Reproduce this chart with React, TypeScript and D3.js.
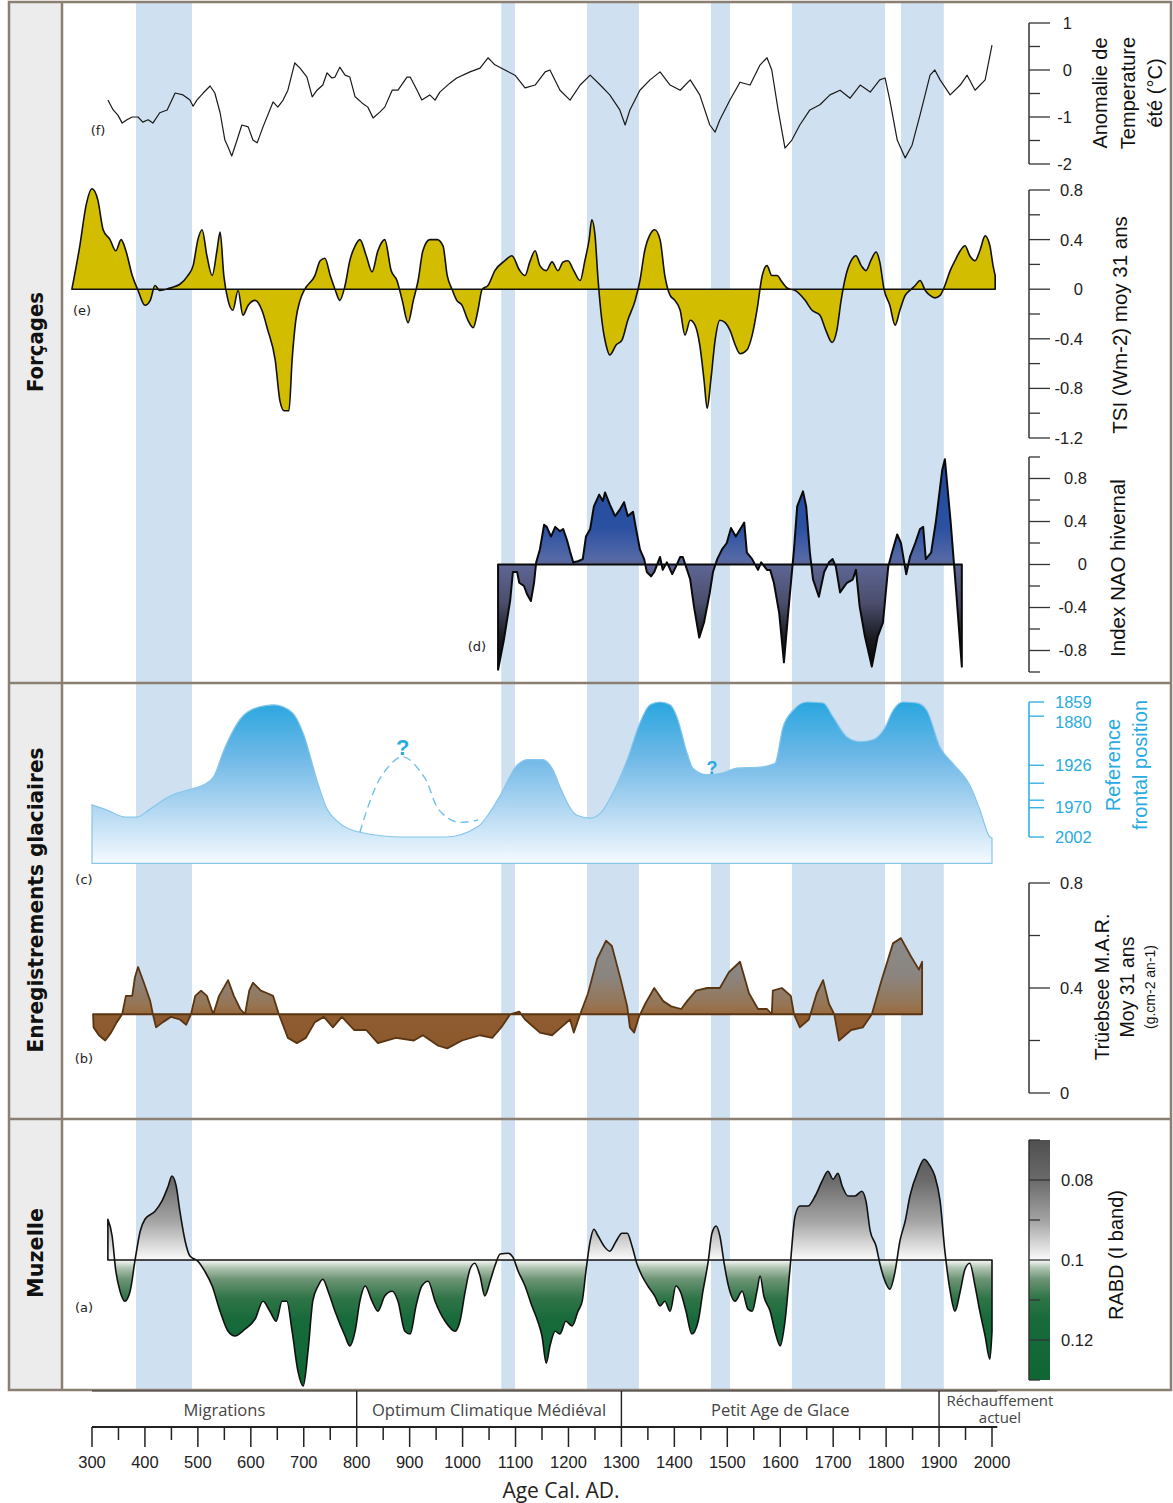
import React from "react";
import * as d3 from "d3";

type P = [number, number];

// ---------- DATA ----------
const bandStarts = [383, 1073, 1235, 1469, 1622, 1828];
const bandEnds = [489, 1099, 1333, 1505, 1798, 1909];

const periodNames = ["Migrations", "Optimum Climatique Médiéval", "Petit Age de Glace", "Réchauffement actuel"];
const periodBounds = [300, 800, 1300, 1900, 2130];
const xTickYears = d3.range(300, 2001, 50);

const fMajor = [1, 0, -1, -2];
const fMinor = [0.5, -0.5, -1.5];
const eMajor = [0.8, 0.4, 0, -0.4, -0.8, -1.2];
const eMinor = [0.6, 0.2, -0.2, -0.6, -1.0];
const dMajor = [0.8, 0.4, 0, -0.4, -0.8];
const dMinor = [1.0, 0.6, 0.2, -0.2, -0.6, -1.0];
const cTicks = [1859, 1874, 1926, 1945, 1963, 1971, 2002];
const cLabels = [1859, 1880, 1926, 1970, 2002];
const bMajor = [0.8, 0.4, 0];
const bMinor = [0.6, 0.2];
const aMajor = [0.08, 0.1, 0.12];
const aMinor = [0.07, 0.09, 0.11, 0.13];

// (f) summer temperature anomaly (°C)
const tempSeries: P[] = [[330,-0.64],[340,-0.85],[349,-0.96],[357,-1.13],[366,-1.06],[376,-1.0],[387,-1.0],[396,-1.11],[406,-1.06],[415,-1.13],[428,-0.91],[442,-0.85],[457,-0.49],[472,-0.53],[485,-0.64],[491,-0.77],[498,-0.64],[510,-0.49],[523,-0.34],[532,-0.49],[542,-0.91],[551,-1.49],[557,-1.64],[564,-1.83],[574,-1.49],[583,-1.17],[595,-1.21],[604,-1.49],[612,-1.55],[623,-1.21],[642,-0.68],[651,-0.79],[661,-0.64],[670,-0.43],[683,0.15],[693,0.04],[706,-0.15],[716,-0.57],[725,-0.43],[736,-0.32],[744,-0.06],[753,-0.17],[759,-0.15],[768,0.06],[778,-0.11],[787,-0.15],[797,-0.57],[810,-0.70],[821,-0.79],[831,-1.02],[844,-0.89],[853,-0.79],[867,-0.43],[878,-0.43],[895,-0.15],[901,-0.15],[914,-0.43],[923,-0.64],[938,-0.53],[948,-0.64],[957,-0.47],[976,-0.28],[989,-0.17],[1014,-0.04],[1033,0.04],[1048,0.26],[1061,0.11],[1080,0],[1099,-0.11],[1118,-0.38],[1137,-0.32],[1156,-0.04],[1165,0],[1184,-0.43],[1203,-0.64],[1222,-0.32],[1241,-0.11],[1260,-0.32],[1278,-0.53],[1297,-0.85],[1307,-1.17],[1316,-0.85],[1335,-0.43],[1354,-0.21],[1373,-0.04],[1392,-0.32],[1411,-0.43],[1430,-0.21],[1448,-0.53],[1467,-1.17],[1477,-1.32],[1486,-1.06],[1505,-0.64],[1524,-0.26],[1543,-0.32],[1562,0.11],[1575,0.26],[1584,0],[1596,-0.85],[1609,-1.66],[1622,-1.49],[1637,-1.17],[1656,-0.85],[1675,-0.74],[1694,-0.53],[1713,-0.43],[1732,-0.6],[1751,-0.32],[1770,-0.47],[1788,-0.21],[1798,-0.17],[1807,-0.64],[1821,-1.49],[1836,-1.87],[1849,-1.6],[1864,-0.96],[1883,-0.11],[1892,0],[1902,-0.21],[1921,-0.53],[1940,-0.32],[1953,-0.11],[1968,-0.43],[1987,-0.21],[2000,0.53]];

// (e) TSI anomaly (W m-2), 31-yr mean
const tsiSeries: P[] = [[262,0],[277,0.35],[289,0.68],[300,0.81],[311,0.72],[321,0.48],[334,0.40],[345,0.31],[355,0.40],[364,0.31],[376,0.11],[387,-0.01],[400,-0.13],[410,-0.09],[419,0.03],[428,-0.01],[447,0.01],[466,0.04],[481,0.11],[491,0.19],[500,0.40],[508,0.48],[517,0.27],[527,0.11],[536,0.31],[542,0.46],[549,0.11],[557,-0.09],[566,-0.17],[576,-0.01],[585,-0.21],[595,-0.13],[608,-0.09],[621,-0.17],[632,-0.33],[646,-0.57],[655,-0.90],[663,-0.98],[672,-0.98],[678,-0.57],[685,-0.25],[693,-0.09],[702,0],[721,0.11],[731,0.23],[740,0.25],[750,0.11],[759,0],[768,-0.09],[778,0.03],[787,0.23],[797,0.35],[806,0.40],[818,0.27],[829,0.14],[840,0.31],[853,0.40],[865,0.15],[876,0.07],[886,-0.09],[897,-0.27],[907,-0.09],[916,0.07],[925,0.31],[938,0.40],[952,0.40],[963,0.35],[971,0.11],[980,0],[989,-0.09],[999,-0.13],[1010,-0.25],[1020,-0.31],[1029,-0.17],[1037,0],[1048,0.03],[1061,0.15],[1080,0.23],[1093,0.27],[1108,0.15],[1118,0.11],[1127,0.22],[1137,0.31],[1146,0.19],[1158,0.15],[1169,0.22],[1180,0.15],[1190,0.22],[1199,0.23],[1210,0.15],[1222,0.07],[1231,0.23],[1239,0.40],[1244,0.56],[1250,0.44],[1256,0.07],[1263,-0.25],[1271,-0.45],[1278,-0.53],[1290,-0.45],[1301,-0.41],[1312,-0.25],[1326,-0.09],[1335,0.07],[1344,0.31],[1354,0.44],[1363,0.48],[1373,0.40],[1382,0.11],[1392,-0.05],[1401,-0.09],[1411,-0.17],[1420,-0.37],[1430,-0.25],[1439,-0.29],[1448,-0.45],[1456,-0.73],[1462,-0.96],[1469,-0.73],[1477,-0.41],[1486,-0.25],[1496,-0.27],[1505,-0.33],[1515,-0.45],[1524,-0.52],[1537,-0.49],[1547,-0.37],[1556,-0.17],[1566,0.11],[1575,0.19],[1584,0.11],[1594,0.11],[1603,0.06],[1613,0.01],[1628,-0.01],[1647,-0.09],[1660,-0.17],[1675,-0.21],[1686,-0.33],[1698,-0.43],[1707,-0.33],[1715,-0.09],[1724,0.11],[1734,0.23],[1743,0.27],[1753,0.19],[1762,0.15],[1771,0.23],[1781,0.30],[1788,0.22],[1796,0],[1807,-0.13],[1817,-0.29],[1826,-0.17],[1836,-0.05],[1845,-0.01],[1855,0.03],[1864,0.07],[1874,-0.01],[1883,-0.05],[1892,-0.07],[1902,-0.05],[1911,0.03],[1921,0.15],[1930,0.23],[1940,0.31],[1949,0.35],[1958,0.27],[1968,0.23],[1977,0.31],[1987,0.43],[1996,0.35],[2002,0.19],[2006,0.11]];

// (d) winter NAO index
const naoSeries: P[] = [[1067,-0.98],[1078,-0.70],[1090,-0.33],[1095,-0.07],[1103,-0.07],[1107,-0.17],[1116,-0.20],[1122,-0.28],[1129,-0.34],[1135,-0.17],[1139,0.02],[1146,0.14],[1154,0.37],[1159,0.35],[1167,0.26],[1175,0.35],[1184,0.31],[1190,0.33],[1197,0.23],[1203,0.12],[1209,0.02],[1218,0.03],[1227,0.05],[1233,0.26],[1241,0.33],[1248,0.54],[1258,0.65],[1265,0.59],[1269,0.67],[1278,0.56],[1288,0.45],[1297,0.51],[1305,0.58],[1312,0.45],[1322,0.49],[1327,0.35],[1335,0.14],[1343,0.05],[1348,-0.07],[1356,-0.11],[1362,-0.07],[1373,0.07],[1378,-0.05],[1386,0.02],[1396,-0.09],[1403,-0.02],[1411,0.07],[1416,0.07],[1422,-0.02],[1430,-0.14],[1437,-0.39],[1447,-0.68],[1456,-0.54],[1467,-0.26],[1473,-0.07],[1481,0.05],[1490,0.14],[1499,0.20],[1507,0.34],[1516,0.26],[1532,0.39],[1537,0.11],[1547,0.05],[1558,-0.05],[1564,0.02],[1575,-0.05],[1581,-0.05],[1588,-0.17],[1598,-0.45],[1607,-0.91],[1615,-0.45],[1626,0.14],[1632,0.54],[1643,0.68],[1649,0.54],[1656,0.11],[1662,-0.14],[1673,-0.30],[1683,-0.07],[1692,0.02],[1699,0.05],[1705,-0.02],[1713,-0.26],[1726,-0.17],[1737,-0.14],[1743,-0.05],[1750,-0.39],[1760,-0.67],[1773,-0.95],[1784,-0.67],[1794,-0.54],[1804,-0.02],[1811,0.11],[1821,0.28],[1828,0.20],[1838,-0.09],[1845,0.07],[1855,0.20],[1864,0.33],[1870,0.35],[1875,0.05],[1885,0.11],[1894,0.40],[1906,0.88],[1911,0.98],[1922,0.39],[1932,-0.23],[1943,-0.95]];

// (c) glacier reference frontal position (year of equivalent front position)
const glacierSeries: P[] = [[300,1968],[326,1973],[364,1981],[385,1981],[408,1973],[449,1958],[489,1951],[510,1947],[530,1938],[549,1910],[583,1875],[617,1864],[644,1862],[678,1870],[699,1892],[725,1942],[742,1970],[767,1987],[806,1997],[887,2002],[969,2002],[1029,1991],[1069,1960],[1103,1926],[1124,1920],[1150,1920],[1171,1931],[1184,1949],[1216,1979],[1241,1982],[1260,1977],[1284,1955],[1311,1920],[1335,1881],[1354,1862],[1373,1859],[1392,1862],[1405,1875],[1424,1913],[1435,1929],[1462,1936],[1492,1934],[1518,1929],[1562,1928],[1590,1924],[1605,1886],[1624,1868],[1651,1859],[1681,1860],[1700,1875],[1726,1896],[1751,1901],[1775,1899],[1798,1886],[1813,1868],[1832,1859],[1858,1860],[1877,1868],[1902,1907],[1926,1924],[1958,1947],[1977,1973],[1996,2002],[2000,2003]];
const glacierBase = 2030;
const glacierDashed: P[] = [[806,1997],[846,1938],[887,1917],[927,1938],[955,1973],[988,1986],[1029,1984]];
const glacierQuery: P[] = [[887,1907],[1471,1929]];

// (b) Trüebsee mass accumulation rate (g cm-2 yr-1), 31-yr mean
const marRef = 0.3;
const marSeries: P[] = [[302,0.30],[303,0.25],[313,0.22],[325,0.20],[336,0.23],[347,0.27],[357,0.30],[364,0.37],[376,0.37],[381,0.44],[387,0.48],[398,0.42],[410,0.35],[415,0.30],[421,0.25],[434,0.27],[449,0.29],[466,0.28],[478,0.26],[487,0.30],[495,0.37],[506,0.39],[517,0.37],[529,0.30],[540,0.37],[557,0.43],[568,0.37],[580,0.32],[589,0.30],[597,0.39],[604,0.42],[619,0.39],[631,0.38],[642,0.37],[653,0.30],[670,0.21],[687,0.19],[704,0.21],[721,0.27],[738,0.29],[755,0.25],[772,0.29],[795,0.24],[818,0.24],[840,0.19],[874,0.21],[908,0.20],[925,0.22],[954,0.18],[971,0.17],[999,0.20],[1033,0.22],[1056,0.21],[1073,0.25],[1090,0.30],[1107,0.31],[1118,0.28],[1146,0.23],[1169,0.22],[1186,0.25],[1203,0.28],[1210,0.23],[1222,0.30],[1237,0.38],[1254,0.51],[1271,0.58],[1282,0.56],[1299,0.43],[1311,0.33],[1316,0.25],[1324,0.23],[1333,0.29],[1345,0.34],[1362,0.40],[1379,0.35],[1394,0.33],[1413,0.32],[1424,0.35],[1441,0.39],[1462,0.40],[1486,0.40],[1503,0.46],[1524,0.50],[1541,0.38],[1558,0.32],[1575,0.32],[1584,0.30],[1586,0.39],[1603,0.40],[1620,0.37],[1626,0.30],[1637,0.25],[1654,0.28],[1669,0.38],[1681,0.43],[1692,0.34],[1702,0.30],[1711,0.20],[1734,0.24],[1756,0.25],[1773,0.30],[1790,0.42],[1813,0.57],[1828,0.59],[1847,0.52],[1862,0.47],[1868,0.50]];

// (a) Muzelle RABD (I band)
const rabdRef = 0.1;
const rabdSeries: P[] = [[330,0.0898],[338,0.0940],[345,0.1028],[353,0.1078],[362,0.1103],[372,0.1078],[381,0.1003],[391,0.0928],[400,0.0898],[419,0.0878],[432,0.0853],[444,0.0815],[451,0.0790],[459,0.0815],[466,0.0878],[476,0.0953],[485,0.0990],[500,0.1003],[513,0.1028],[527,0.1065],[542,0.1128],[557,0.1178],[570,0.1190],[589,0.1173],[608,0.1148],[623,0.1103],[636,0.1128],[648,0.1153],[659,0.1103],[668,0.1103],[678,0.1178],[689,0.1278],[699,0.1315],[708,0.1228],[717,0.1103],[727,0.1065],[736,0.1048],[746,0.1078],[759,0.1128],[778,0.1190],[787,0.1215],[797,0.1178],[806,0.1103],[816,0.1065],[829,0.1103],[840,0.1128],[853,0.1090],[867,0.1078],[878,0.1103],[891,0.1178],[901,0.1185],[912,0.1115],[923,0.1065],[935,0.1053],[948,0.1103],[967,0.1153],[986,0.1178],[995,0.1153],[1005,0.1078],[1014,0.1023],[1023,0.1008],[1033,0.1040],[1042,0.1090],[1052,0.1053],[1061,0.1015],[1071,0.0985],[1086,0.0983],[1095,0.0993],[1105,0.1028],[1118,0.1065],[1131,0.1115],[1142,0.1153],[1150,0.1190],[1158,0.1258],[1165,0.1215],[1175,0.1178],[1184,0.1185],[1195,0.1153],[1207,0.1165],[1218,0.1128],[1226,0.1103],[1233,0.1028],[1241,0.0953],[1248,0.0923],[1256,0.0940],[1267,0.0965],[1278,0.0978],[1290,0.0953],[1301,0.0933],[1311,0.0933],[1320,0.0965],[1329,0.1008],[1339,0.1040],[1350,0.1065],[1363,0.1090],[1373,0.1115],[1382,0.1103],[1392,0.1128],[1403,0.1065],[1411,0.1078],[1422,0.1128],[1433,0.1185],[1445,0.1153],[1454,0.1078],[1464,0.1003],[1471,0.0933],[1479,0.0915],[1486,0.0940],[1494,0.1008],[1501,0.1058],[1515,0.1103],[1528,0.1078],[1539,0.1123],[1547,0.1128],[1556,0.1078],[1562,0.1040],[1569,0.1090],[1581,0.1128],[1590,0.1178],[1600,0.1215],[1609,0.1153],[1618,0.1028],[1628,0.0890],[1637,0.0865],[1652,0.0865],[1666,0.0840],[1679,0.0803],[1690,0.0778],[1700,0.0798],[1709,0.0783],[1717,0.0815],[1728,0.0840],[1741,0.0840],[1754,0.0828],[1762,0.0853],[1770,0.0928],[1781,0.0965],[1788,0.1008],[1798,0.1053],[1807,0.1073],[1817,0.1028],[1826,0.0953],[1836,0.0903],[1845,0.0840],[1860,0.0778],[1872,0.0748],[1883,0.0765],[1892,0.0790],[1902,0.0853],[1911,0.0978],[1921,0.1078],[1930,0.1128],[1940,0.1078],[1949,0.1023],[1958,0.1008],[1968,0.1065],[1977,0.1128],[1987,0.1190],[1996,0.1248],[2000,0.1178]];

// ---------- STYLE ----------
const ARIAL = "'Liberation Sans', Arial, sans-serif";
const MYRIAD = "'Open Sans', 'Noto Sans', sans-serif";
const VERD = "'DejaVu Sans', Verdana, sans-serif";
const COND = "'Liberation Sans Narrow', 'DejaVu Sans Condensed', 'Roboto', sans-serif";
const BORDER = "#8a7f72";
const AX = "#333";
const BLUE = "#29abe2";

function VAxis(props: {
  scale: d3.ScaleLinear<number, number>; top: number; bottom: number;
  major: number[]; minor: number[]; labels?: number[]; lx: number; anchor: string;
  color?: string; fmt?: (v: number) => string; majorLen?: number; minorLen?: number;
}) {
  const { scale, top, bottom, major, minor, lx, anchor } = props;
  const color = props.color || AX;
  const labels = props.labels || major;
  const fmt = props.fmt || ((v: number) => String(v));
  const ml = props.majorLen ?? 21;
  const nl = props.minorLen ?? 11;
  const x0 = 1029;
  return (
    <g>
      <line x1={x0} x2={x0} y1={scale(top)} y2={scale(bottom)} stroke={color} strokeWidth={1.5} />
      {minor.map((v) => (
        <line key={"n" + v} x1={x0} x2={x0 + nl} y1={scale(v)} y2={scale(v)} stroke={color} strokeWidth={1.3} />
      ))}
      {major.map((v) => (
        <line key={"m" + v} x1={x0} x2={x0 + ml} y1={scale(v)} y2={scale(v)} stroke={color} strokeWidth={1.3} />
      ))}
      {labels.map((v) => (
        <text key={"t" + v} x={lx} y={scale(v)} dy="0.36em" textAnchor={anchor as any}
          fontFamily={ARIAL} fontSize={16.5} fill={color === AX ? "#222" : color}>{fmt(v)}</text>
      ))}
    </g>
  );
}

function VTitle({ x, y, lines, size, color, gap }: { x: number; y: number; lines: string[]; size: number; color?: string; gap: number }) {
  return (
    <g>
      {lines.map((l, i) => (
        <text key={i} transform={`translate(${x + i * gap},${y}) rotate(-90)`} textAnchor="middle" dy="0.35em"
          fontFamily={ARIAL} fontSize={size} fill={color || "#111"}>{l}</text>
      ))}
    </g>
  );
}

export default function App() {
  const x = d3.scaleLinear().domain([300, 2000]).range([92, 992]);
  const yF = d3.scaleLinear().domain([-2, 1]).range([164, 23]);
  const yE = d3.scaleLinear().domain([-1.2, 0.8]).range([438, 190]);
  const yD = d3.scaleLinear().domain([-1, 1]).range([672, 457]);
  const yC = d3.scaleLinear().domain([1859, 2002]).range([702, 837]);
  const yB = d3.scaleLinear().domain([0, 0.8]).range([1093, 883]);
  const yA = d3.scaleLinear().domain([0.07, 0.13]).range([1140, 1380]);

  const tempPath = d3.line<P>().x((d) => x(d[0])).y((d) => yF(d[1]))(tempSeries) || "";
  const tsiPath = d3.area<P>().x((d) => x(d[0])).y0(yE(0)).y1((d) => yE(d[1])).curve(d3.curveMonotoneX)(tsiSeries) || "";
  const naoPath = d3.area<P>().x((d) => x(d[0])).y0(yD(0)).y1((d) => yD(d[1]))(naoSeries) || "";
  const glacPath = d3.area<P>().x((d) => x(d[0])).y0(yC(glacierBase)).y1((d) => yC(d[1])).curve(d3.curveMonotoneX)(glacierSeries) || "";
  const glacDash = d3.line<P>().x((d) => x(d[0])).y((d) => yC(d[1])).curve(d3.curveCatmullRom)(glacierDashed) || "";
  const marPath = d3.area<P>().x((d) => x(d[0])).y0(yB(marRef)).y1((d) => yB(d[1]))(marSeries) || "";
  const rabdPath = d3.area<P>().x((d) => x(d[0])).y0(yA(rabdRef)).y1((d) => yA(d[1])).curve(d3.curveMonotoneX)(rabdSeries) || "";

  const axisY = 1427;

  return (
    <svg width={1173} height={1503} viewBox="0 0 1173 1503"
      style={{ position: "absolute", left: 0, top: 0, display: "block", background: "#fff" }}>
      <defs>
        <linearGradient id="gNao" gradientUnits="userSpaceOnUse" x1="0" y1={457} x2="0" y2={672}>
          <stop offset="0" stopColor="#22479a" />
          <stop offset="0.33" stopColor="#2b51a2" />
          <stop offset="0.47" stopColor="#5468a6" />
          <stop offset="0.505" stopColor="#5d6593" />
          <stop offset="0.68" stopColor="#4a4e6c" />
          <stop offset="0.84" stopColor="#1b1b22" />
          <stop offset="1" stopColor="#000" />
        </linearGradient>
        <linearGradient id="gGlac" gradientUnits="userSpaceOnUse" x1="0" y1={702} x2="0" y2={864}>
          <stop offset="0" stopColor="#29a6df" />
          <stop offset="0.35" stopColor="#70b9e7" />
          <stop offset="0.7" stopColor="#b9dbf3" />
          <stop offset="1" stopColor="#f6fbff" />
        </linearGradient>
        <linearGradient id="gMar" gradientUnits="userSpaceOnUse" x1="0" y1={935} x2="0" y2={1050}>
          <stop offset="0" stopColor="#8a8a8a" />
          <stop offset="0.35" stopColor="#8b8580" />
          <stop offset="0.6" stopColor="#957656" />
          <stop offset="0.685" stopColor="#9a6a3e" />
          <stop offset="0.7" stopColor="#8f5b30" />
          <stop offset="1" stopColor="#8c592d" />
        </linearGradient>
        <linearGradient id="gRabd" gradientUnits="userSpaceOnUse" x1="0" y1={1140} x2="0" y2={1380}>
          <stop offset="0" stopColor="#4f4f4f" />
          <stop offset="0.17" stopColor="#6b6b6b" />
          <stop offset="0.34" stopColor="#a5a5a5" />
          <stop offset="0.5" stopColor="#fbfbfb" />
          <stop offset="0.53" stopColor="#b4c8b6" />
          <stop offset="0.58" stopColor="#6c9474" />
          <stop offset="0.66" stopColor="#2f7447" />
          <stop offset="0.75" stopColor="#176a3a" />
          <stop offset="1" stopColor="#0f6734" />
        </linearGradient>
      </defs>

      {/* left label column */}
      <rect x={9} y={2} width={53} height={1388} fill="#ececec" />

      {/* blue bands */}
      {bandStarts.map((s, i) => (
        <rect key={i} x={x(s)} y={3} width={x(bandEnds[i]) - x(s)} height={1387} fill="#cfe1f1" />
      ))}

      {/* (f) temperature */}
      <path d={tempPath} fill="none" stroke="#1a1a1a" strokeWidth={1.2} strokeLinejoin="round" />

      {/* (e) TSI */}
      <path d={tsiPath} fill="#d3bd00" stroke="#111" strokeWidth={1.6} strokeLinejoin="round" />

      {/* (d) NAO */}
      <path d={naoPath} fill="url(#gNao)" stroke="#0a0a0a" strokeWidth={2} strokeLinejoin="round" />

      {/* (c) glacier */}
      <path d={glacPath} fill="url(#gGlac)" stroke="#86c6ec" strokeWidth={1.2} />
      <path d={glacDash} fill="none" stroke="#6ec0ea" strokeWidth={1.4} strokeDasharray="8,5" />
      {glacierQuery.map((q, i) => (
        <text key={i} x={x(q[0])} y={yC(q[1])} dy="0.35em" textAnchor="middle" fontFamily={ARIAL}
          fontWeight="bold" fontSize={i === 0 ? 22 : 18} fill={BLUE}>?</text>
      ))}

      {/* (b) MAR */}
      <path d={marPath} fill="url(#gMar)" stroke="#5a3512" strokeWidth={1.8} strokeLinejoin="round" />

      {/* (a) RABD */}
      <path d={rabdPath} fill="url(#gRabd)" stroke="#111" strokeWidth={1.6} strokeLinejoin="round" />

      {/* panel letters */}
      {[["(f)", 98, 130], ["(e)", 82, 310], ["(d)", 477, 646], ["(c)", 84, 879], ["(b)", 84, 1058], ["(a)", 84, 1307]].map((t) => (
        <text key={t[0] as string} x={t[1] as number} y={t[2] as number} dy="0.35em" textAnchor="middle"
          fontFamily={VERD} fontSize={13} fill="#222">{t[0]}</text>
      ))}

      {/* right axes */}
      <VAxis scale={yF} top={1} bottom={-2} major={fMajor} minor={fMinor} lx={1072} anchor="end" />
      <VTitle x={1100} y={93} lines={["Anomalie de", "Temperature", "été (°C)"]} size={20} gap={27.5} />

      <VAxis scale={yE} top={0.8} bottom={-1.2} major={eMajor} minor={eMinor} lx={1083} anchor="end" />
      <VTitle x={1120} y={325} lines={["TSI (Wm-2) moy 31 ans"]} size={20.5} gap={0} />

      <VAxis scale={yD} top={1} bottom={-1} major={dMajor} minor={dMinor} lx={1087} anchor="end" />
      <VTitle x={1118} y={568} lines={["Index NAO hivernal"]} size={20.5} gap={0} />

      <VAxis scale={yC} top={1859} bottom={2002} major={cTicks} minor={[]} labels={cLabels} lx={1055}
        anchor="start" color={BLUE} majorLen={15} />
      <VTitle x={1113} y={765} lines={["Reference", "frontal position"]} size={20} color={BLUE} gap={27} />

      <VAxis scale={yB} top={0.8} bottom={0} major={bMajor} minor={bMinor} lx={1060} anchor="start" />
      <VTitle x={1102} y={987} lines={["Trüebsee M.A.R.", "Moy 31 ans"]} size={19.5} gap={25} />
      <VTitle x={1150} y={987} lines={["(g.cm-2 an-1)"]} size={14} gap={0} />

      {/* RABD colour bar */}
      <rect x={1029} y={yA(0.07)} width={21} height={yA(0.13) - yA(0.07)} fill="url(#gRabd)" />
      <VAxis scale={yA} top={0.07} bottom={0.13} major={aMajor} minor={aMinor} lx={1061} anchor="start" />
      <VTitle x={1116} y={1255} lines={["RABD (I band)"]} size={20} gap={0} />

      {/* frames */}
      <rect x={9} y={2} width={1162} height={1388} fill="none" stroke={BORDER} strokeWidth={2.5} />
      <line x1={62} x2={62} y1={2} y2={1390} stroke={BORDER} strokeWidth={2.5} />
      <line x1={9} x2={1172} y1={683} y2={683} stroke={BORDER} strokeWidth={2.5} />
      <line x1={9} x2={1172} y1={1119} y2={1119} stroke={BORDER} strokeWidth={2.5} />

      {/* left labels */}
      {[["Forçages", 342, 100], ["Enregistrements glaciaires", 900, 305], ["Muzelle", 1253, 90]].map((t) => (
        <text key={t[0] as string} transform={`translate(35.5,${t[1]}) rotate(-90)`} textAnchor="middle" dy="0.35em"
          fontFamily={COND} fontWeight="bold" fontSize={22} fill="#111"
          textLength={t[2] as number} lengthAdjust="spacingAndGlyphs">{t[0]}</text>
      ))}

      {/* bottom period band + time axis */}
      <line x1={x(300)} x2={x(2010)} y1={1391} y2={1391} stroke="#333" strokeWidth={1} />
      {periodBounds.slice(1, 4).map((b) => (
        <line key={b} x1={x(b)} x2={x(b)} y1={1391} y2={axisY} stroke="#222" strokeWidth={1.4} />
      ))}
      {periodNames.map((n, i) => {
        const cx = x((periodBounds[i] + periodBounds[i + 1]) / 2);
        if (i === 3) {
          return (
            <g key={n}>
              <text x={cx} y={1401} dy="0.35em" textAnchor="middle" fontFamily={MYRIAD} fontSize={15} fill="#444">Réchauffement</text>
              <text x={cx} y={1418} dy="0.35em" textAnchor="middle" fontFamily={MYRIAD} fontSize={15} fill="#444">actuel</text>
            </g>
          );
        }
        return (
          <text key={n} x={cx} y={1410} dy="0.35em" textAnchor="middle" fontFamily={MYRIAD} fontSize={16.5} fill="#444">{n}</text>
        );
      })}
      <line x1={x(300)} x2={x(2010)} y1={axisY} y2={axisY} stroke="#222" strokeWidth={2} />
      {xTickYears.map((t) => (
        <line key={t} x1={x(t)} x2={x(t)} y1={axisY} y2={axisY + (t % 100 === 0 ? 20 : 13)} stroke="#222" strokeWidth={1.5} />
      ))}
      {xTickYears.filter((t) => t % 100 === 0).map((t) => (
        <text key={t} x={x(t)} y={1462} dy="0.36em" textAnchor="middle" fontFamily={ARIAL} fontSize={16.5} fill="#222">{t}</text>
      ))}
      <text x={561} y={1490} dy="0.36em" textAnchor="middle" fontFamily={MYRIAD} fontSize={21} fill="#222">Age Cal. AD.</text>
    </svg>
  );
}
